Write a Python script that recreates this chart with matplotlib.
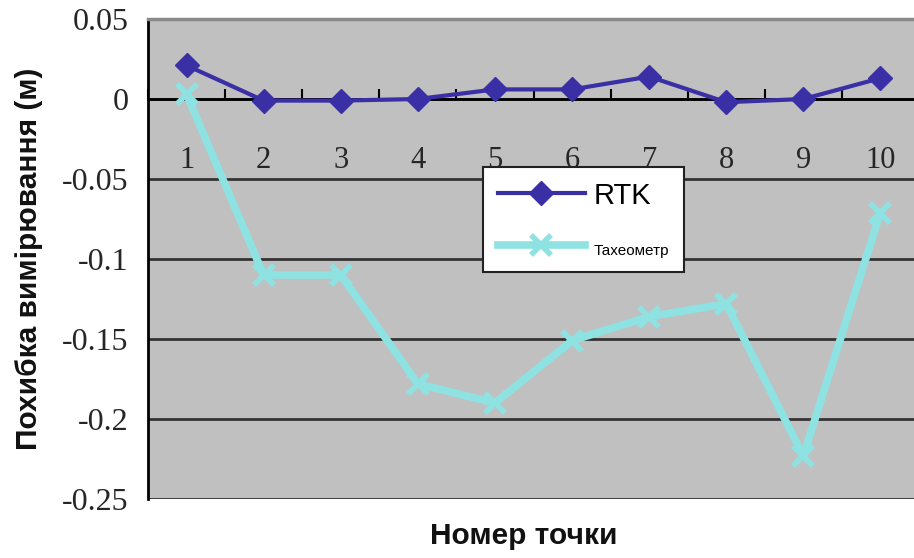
import matplotlib
matplotlib.use('Agg')
import matplotlib.pyplot as plt

# Data
points = [1, 2, 3, 4, 5, 6, 7, 8, 9, 10]
rtk = [0.021, -0.001, -0.001, 0.0, 0.006, 0.006, 0.014, -0.002, 0.0, 0.013]
tacheometer = [0.003, -0.110, -0.110, -0.178, -0.190, -0.151, -0.136, -0.128, -0.223, -0.071]
y_ticks = [-0.25, -0.2, -0.15, -0.1, -0.05, 0, 0.05]
y_tick_labels = ['-0.25', '-0.2', '-0.15', '-0.1', '-0.05', '0', '0.05']

serif = 'Liberation Serif'
sans = 'Liberation Sans'

fig = plt.figure(figsize=(9.14, 5.58), dpi=100)
ax = fig.add_axes([148/914, 1 - 499/558, 771/914, 480/558])
ax.set_facecolor('#c0c0c0')

ax.plot(points, tacheometer, color='#8fe2e2', lw=5.5, marker='x', ms=14, mew=4,
        label='Тахеометр', zorder=3)
ax.plot(points, rtk, color='#3b2fa6', lw=3, marker='D', ms=12,
        label='RTK', zorder=4)

ax.set_xlim(0.5, 10.5)
ax.set_ylim(-0.25, 0.05)

# y axis
ax.set_yticks(y_ticks)
ax.set_yticklabels(y_tick_labels, fontfamily=serif, fontsize=23, color='#262626')
ax.tick_params(axis='y', length=0, pad=14)
ax.yaxis.grid(True, color='#333333', lw=2)

# x axis crosses at zero, labels below
ax.spines['bottom'].set_position(('data', 0))
ax.spines['bottom'].set_linewidth(2)
ax.spines['bottom'].set_zorder(2)
ax.set_xticks(points)
ax.set_xticklabels([str(p) for p in points], fontfamily=serif, fontsize=22, color='#262626')
ax.set_xticks([p - 0.5 for p in points] + [10.5], minor=True)
ax.tick_params(axis='x', which='major', length=0, pad=34)
ax.tick_params(axis='x', which='minor', direction='in', length=7, width=1.5)

ax.spines['left'].set_linewidth(2)
ax.spines['top'].set_color('#8a8a8a')
ax.spines['top'].set_linewidth(2.5)
ax.spines['right'].set_visible(False)

ax.set_ylabel('Похибка вимірювання (м)', fontfamily=sans, fontweight='bold',
              fontsize=21.5, color='#111111')
ax.yaxis.set_label_coords(-0.136, 0.5)
ax.set_xlabel('Номер точки', fontfamily=sans, fontweight='bold',
              fontsize=21.5, color='#111111', va='top')
ax.xaxis.set_label_coords(0.488, -0.048)

# legend: RTK first
handles, labels = ax.get_legend_handles_labels()
lgd = ax.legend(handles[::-1], labels[::-1], loc='upper left',
                bbox_to_anchor=(0.4345, 0.6917), borderaxespad=0,
                prop={'family': sans, 'size': 21}, handlelength=3,
                handletextpad=0.3, borderpad=0.5, labelspacing=0.85,
                fancybox=False, framealpha=1, edgecolor='#222222')
lgd.get_frame().set_linewidth(1.5)
lgd.get_texts()[1].set_fontsize(11)
lgd.set_zorder(5)

fig.savefig('out.png', dpi=100)
